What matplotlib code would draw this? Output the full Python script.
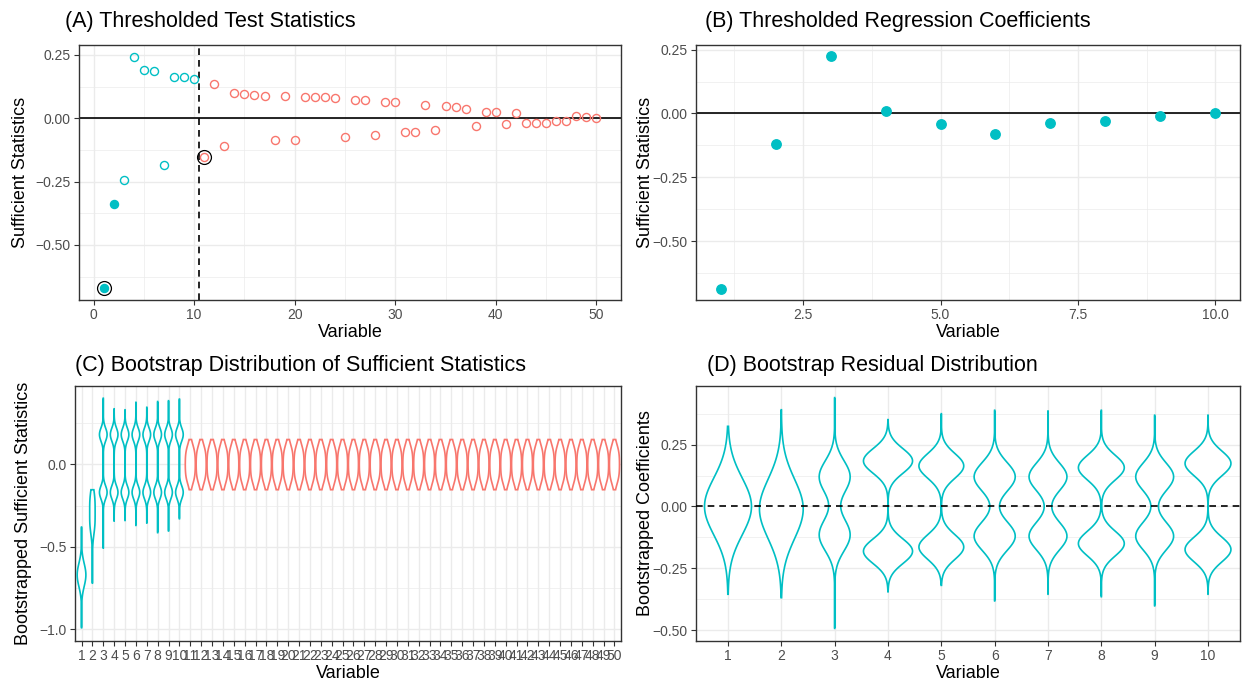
import numpy as np
import matplotlib
matplotlib.use("Agg")
import matplotlib.pyplot as plt
from matplotlib.ticker import FixedLocator

plt.rcParams['font.family'] = ['Liberation Sans', 'DejaVu Sans']

TEAL = '#00BFC4'
RED = '#F8766D'
GRID = '#EBEBEB'
FRAME = '#333333'
TICKLAB = '#4D4D4D'

# ---- (A) thresholded test statistics
var_a = np.arange(1, 51)
stat_a = [-0.671, -0.339, -0.243, 0.243, 0.191, 0.187, -0.184, 0.163, 0.163, 0.153,
          -0.151, 0.134, -0.108, 0.099, 0.097, 0.093, 0.089, -0.086, 0.086, -0.086,
          0.084, 0.084, 0.084, 0.080, -0.074, 0.071, 0.071, -0.068, 0.066, 0.063,
          -0.055, -0.053, 0.053, -0.047, 0.049, 0.045, 0.037, -0.032, 0.026, 0.026,
          -0.024, 0.021, -0.018, -0.018, -0.017, -0.012, -0.011, 0.009, 0.005, 0.001]
n_active = 10          # variables left of the cutoff
filled_a = [1, 2]      # solid markers
ringed_a = [1, 11]     # black rings
cutoff_a = 10.5

# ---- (B) thresholded regression coefficients
var_b = np.arange(1, 11)
coef_b = [-0.686, -0.118, 0.223, 0.009, -0.043, -0.079, -0.037, -0.030, -0.010, 0.001]

# ---- (C) bootstrap distribution of sufficient statistics
boot_lo = [-0.99, -0.72, -0.51, -0.344, -0.34, -0.37, -0.356, -0.414, -0.404, -0.33] + [-0.154] * 40
boot_hi = [-0.38, -0.154, 0.40, 0.336, 0.33, 0.375, 0.345, 0.38, 0.385, 0.395] + [0.15] * 40
boot_modes = ([[-0.67], [-0.22, -0.36]] + [[0.18, -0.17]] * 8
              + [[-0.08, 0.0, 0.08]] * 40)
boot_spread = [0.07, 0.07] + [0.04] * 8 + [0.05] * 40
boot_width = [0.40, 0.25] + [0.35] * 8 + [0.46] * 40

# ---- (D) bootstrap residual distribution
resid_lo = [-0.355, -0.369, -0.493, -0.345, -0.319, -0.382, -0.355, -0.365, -0.402, -0.355]
resid_hi = [0.324, 0.391, 0.44, 0.351, 0.375, 0.389, 0.386, 0.389, 0.369, 0.369]
resid_modes = [[0.0], [-0.01], [0.12, -0.115], [0.184, -0.181], [0.164, -0.164],
               [0.12, -0.12], [0.12, -0.12], [0.157, -0.15], [0.12, -0.12], [0.174, -0.174]]
resid_spread = [0.115, 0.12, 0.065, 0.05, 0.05, 0.058, 0.056, 0.05, 0.056, 0.05]
resid_width = [0.44, 0.41, 0.29, 0.46, 0.42, 0.385, 0.355, 0.43, 0.355, 0.43]

W, H = 1243, 682
fig = plt.figure(figsize=(W / 100, H / 100), dpi=100)


def panel(left, right, top, bottom):
    ax = fig.add_axes([left / W, 1 - bottom / H, (right - left) / W, (bottom - top) / H])
    for s in ax.spines.values():
        s.set_color(FRAME)
        s.set_linewidth(1.0)
    ax.tick_params(which='major', length=3.5, width=0.8, color=FRAME,
                   labelsize=10, labelcolor=TICKLAB, pad=2.5)
    ax.tick_params(which='minor', length=0)
    ax.set_axisbelow(True)
    return ax


def gridlines(ax, xmajor, ymajor, xminor=(), yminor=()):
    ax.xaxis.set_major_locator(FixedLocator(xmajor))
    ax.yaxis.set_major_locator(FixedLocator(ymajor))
    ax.xaxis.set_minor_locator(FixedLocator(list(xminor)))
    ax.yaxis.set_minor_locator(FixedLocator(list(yminor)))
    ax.grid(which='major', color=GRID, lw=1.0)
    ax.grid(which='minor', color=GRID, lw=0.5)


def violin(ax, pos, lo, hi, modes, spread, halfwidth, color):
    y = np.linspace(lo, hi, 300)
    dens = sum(np.exp(-0.5 * ((y - m) / spread) ** 2) for m in modes)
    w = halfwidth * dens / dens.max()
    xs = np.concatenate([pos - w, (pos + w)[::-1]])
    ys = np.concatenate([y, y[::-1]])
    ax.fill(xs, ys, facecolor='white', edgecolor=color, lw=1.2, zorder=3)


def titles(ax, title, tx, ty, ylabel, ylx):
    fig.text(tx / W, 1 - ty / H, title, fontsize=15.5, va='center', ha='left')
    ax.set_xlabel('Variable', fontsize=13, labelpad=1)
    ax.set_ylabel(ylabel, fontsize=13)
    ax.yaxis.set_label_coords(ylx, 0.5)


# (A)
axA = panel(79, 621, 45, 300)
colors_a = [TEAL if v <= n_active else RED for v in var_a]
for v, s, c in zip(var_a, stat_a, colors_a):
    face = c if v in filled_a else 'none'
    axA.plot(v, s, 'o', ms=5.8, mfc=face, mec=c, mew=1.0, zorder=4)
for v in ringed_a:
    axA.plot(v, stat_a[v - 1], 'o', ms=10, mfc='none', mec='black', mew=0.9, zorder=5)
axA.axhline(0, color='black', lw=1.2, zorder=2)
axA.axvline(cutoff_a, color='black', lw=1.2, ls=(0, (4, 3)), zorder=2)
axA.set_xlim(-1.45, 52.45)
axA.set_ylim(-0.717, 0.289)
gridlines(axA, [0, 10, 20, 30, 40, 50], [-0.5, -0.25, 0, 0.25],
          [5, 15, 25, 35, 45], [-0.625, -0.375, -0.125, 0.125])
axA.set_yticklabels(['\u22120.50', '\u22120.25', '0.00', '0.25'])
titles(axA, '(A) Thresholded Test Statistics', 65, 21, 'Sufficient Statistics', -0.092)

# (B)
axB = panel(696, 1240, 45, 300)
axB.plot(var_b, coef_b, 'o', ms=6.8, color=TEAL, zorder=4)
axB.axhline(0, color='black', lw=1.2, zorder=2)
axB.set_xlim(0.55, 10.45)
axB.set_ylim(-0.731, 0.268)
gridlines(axB, [2.5, 5.0, 7.5, 10.0], [-0.5, -0.25, 0, 0.25],
          [1.25, 3.75, 6.25, 8.75], [-0.625, -0.375, -0.125, 0.125])
axB.set_xticklabels(['2.5', '5.0', '7.5', '10.0'])
axB.set_yticklabels(['\u22120.50', '\u22120.25', '0.00', '0.25'])
titles(axB, '(B) Thresholded Regression Coefficients', 705, 21, 'Sufficient Statistics', -0.077)

# (C)
axC = panel(75, 621, 386, 641)
for i in range(50):
    violin(axC, i + 1, boot_lo[i], boot_hi[i], boot_modes[i], boot_spread[i],
           boot_width[i], TEAL if i < n_active else RED)
axC.set_xlim(0.4, 50.6)
axC.set_ylim(-1.07, 0.474)
gridlines(axC, list(range(1, 51)), [-1.0, -0.5, 0.0], [], [-0.75, -0.25, 0.25])
axC.set_xticklabels([str(i) for i in range(1, 51)])
axC.set_yticklabels(['\u22121.0', '\u22120.5', '0.0'])
titles(axC, '(C) Bootstrap Distribution of Sufficient Statistics', 75, 365,
       'Bootstrapped Sufficient Statistics', -0.079)

# (D)
axD = panel(696, 1240, 386, 641)
for i in range(10):
    violin(axD, i + 1, resid_lo[i], resid_hi[i], resid_modes[i], resid_spread[i],
           resid_width[i], TEAL)
axD.axhline(0, color='black', lw=1.2, ls=(0, (4, 3)), zorder=4)
axD.set_xlim(0.4, 10.6)
axD.set_ylim(-0.544, 0.487)
gridlines(axD, list(range(1, 11)), [-0.5, -0.25, 0, 0.25], [],
          [-0.375, -0.125, 0.125, 0.375])
axD.set_xticklabels([str(i) for i in range(1, 11)])
axD.set_yticklabels(['\u22120.50', '\u22120.25', '0.00', '0.25'])
titles(axD, '(D) Bootstrap Residual Distribution', 707, 365,
       'Bootstrapped Coefficients', -0.077)

fig.savefig('out.png', dpi=100, facecolor='white')
